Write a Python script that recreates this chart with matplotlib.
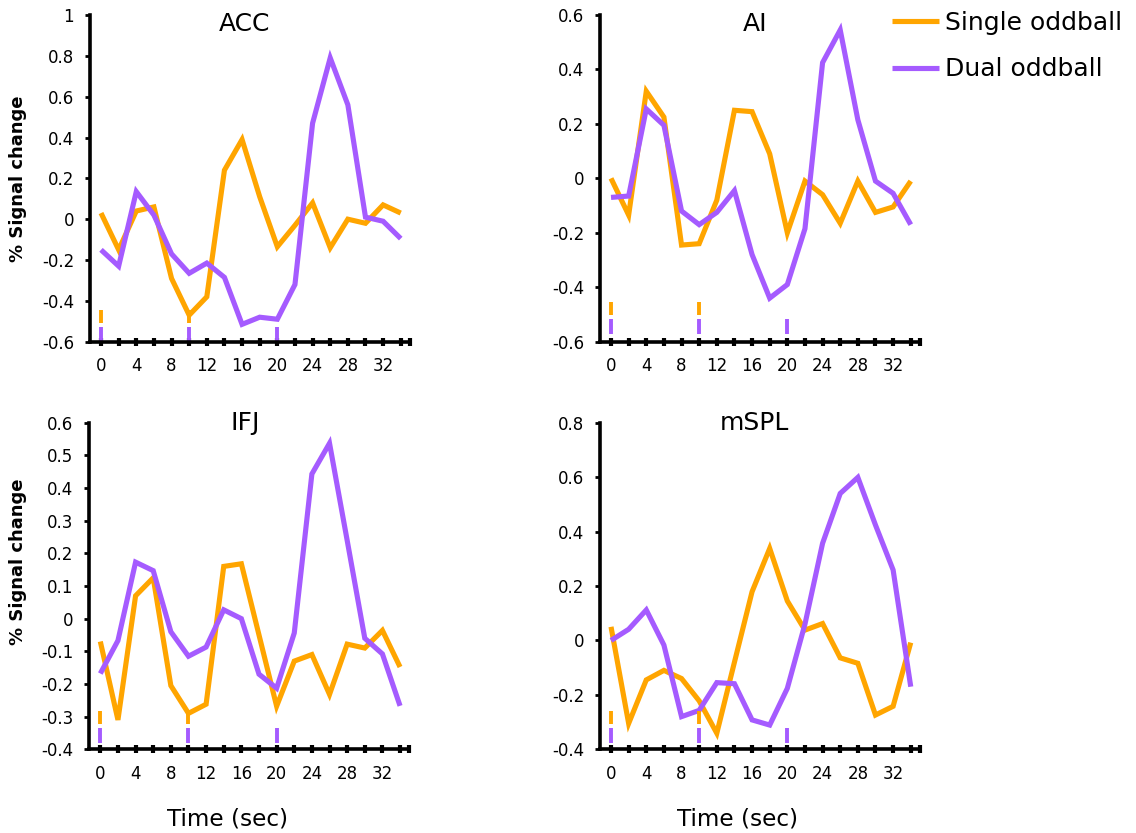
import matplotlib
matplotlib.use("Agg")
import matplotlib.pyplot as plt
import matplotlib.transforms as mtransforms
from matplotlib.ticker import FixedLocator, FuncFormatter

plt.rcParams["font.family"] = ["DejaVu Sans"]
plt.rcParams["axes.unicode_minus"] = False

# ---- data -------------------------------------------------------------
time_sec = [0, 2, 4, 6, 8, 10, 12, 14, 16, 18, 20, 22, 24, 26, 28, 30, 32, 34]

regions = ["ACC", "AI", "IFJ", "mSPL"]

acc_single = [0.03, -0.15, 0.04, 0.06, -0.29, -0.47, -0.38, 0.24, 0.39, 0.11,
              -0.135, -0.03, 0.08, -0.14, 0.0, -0.02, 0.07, 0.03]
acc_dual = [-0.15, -0.23, 0.135, 0.02, -0.17, -0.265, -0.215, -0.285, -0.515, -0.48,
            -0.49, -0.32, 0.47, 0.79, 0.56, 0.01, -0.01, -0.095]

ai_single = [0.0, -0.135, 0.32, 0.225, -0.245, -0.24, -0.08, 0.25, 0.245, 0.09,
             -0.2, -0.01, -0.06, -0.165, -0.01, -0.125, -0.105, -0.01]
ai_dual = [-0.07, -0.065, 0.255, 0.195, -0.12, -0.17, -0.125, -0.045, -0.28, -0.44,
           -0.39, -0.185, 0.425, 0.545, 0.215, -0.01, -0.055, -0.17]

ifj_single = [-0.07, -0.31, 0.07, 0.125, -0.205, -0.29, -0.262, 0.16, 0.168, -0.05,
              -0.268, -0.13, -0.11, -0.232, -0.078, -0.09, -0.036, -0.148]
ifj_dual = [-0.168, -0.067, 0.173, 0.147, -0.04, -0.115, -0.087, 0.027, 0.0, -0.17,
            -0.213, -0.044, 0.443, 0.537, 0.24, -0.06, -0.108, -0.267]

mspl_single = [0.05, -0.305, -0.145, -0.11, -0.14, -0.222, -0.341, -0.08, 0.179, 0.338,
               0.145, 0.038, 0.062, -0.064, -0.084, -0.274, -0.242, -0.008]
mspl_dual = [0.0, 0.041, 0.112, -0.017, -0.28, -0.257, -0.155, -0.159, -0.292, -0.311,
             -0.176, 0.06, 0.357, 0.54, 0.599, 0.424, 0.259, -0.17]

single_series = [acc_single, ai_single, ifj_single, mspl_single]
dual_series = [acc_dual, ai_dual, ifj_dual, mspl_dual]

# y-axis tick values per region
yticks_acc = [-0.6, -0.4, -0.2, 0, 0.2, 0.4, 0.6, 0.8, 1]
yticks_ai = [-0.6, -0.4, -0.2, 0, 0.2, 0.4, 0.6]
yticks_ifj = [-0.4, -0.3, -0.2, -0.1, 0, 0.1, 0.2, 0.3, 0.4, 0.5, 0.6]
yticks_mspl = [-0.4, -0.2, 0, 0.2, 0.4, 0.6, 0.8]
yticks_all = [yticks_acc, yticks_ai, yticks_ifj, yticks_mspl]

xtick_labeled = [0, 4, 8, 12, 16, 20, 24, 28, 32]

# stimulus onsets (sec)
single_onsets = [0, 10]
dual_onsets = [0, 10, 20]

series_labels = ["Single oddball", "Dual oddball"]

# ---- styling ----------------------------------------------------------
C_SINGLE = "#FFA500"
C_DUAL = "#A55BFF"
W, H = 1136, 833

fig = plt.figure(figsize=(W / 100, H / 100), dpi=100)

axes_px = [(90, 15, 320, 326.7), (600, 15, 320, 326.7),
           (89.3, 422.7, 320, 326.6), (600, 422.7, 320, 326.6)]
onset_base = [0.0, 0.025, 0.02, 0.02]
title_pos = [(244.7, 31), (754.7, 31), (245.5, 430), (754.7, 430)]

handles = None
for i, name in enumerate(regions):
    x0, y0, w, h = axes_px[i]
    ax = fig.add_axes([x0 / W, 1 - (y0 + h) / H, w / W, h / H])
    yt = yticks_all[i]

    l1, = ax.plot(time_sec, single_series[i], color=C_SINGLE, lw=3.7,
                  solid_joinstyle="miter", solid_capstyle="butt", zorder=3)
    l2, = ax.plot(time_sec, dual_series[i], color=C_DUAL, lw=3.7,
                  solid_joinstyle="miter", solid_capstyle="butt", zorder=3)
    if handles is None:
        handles = [l1, l2]

    # onset markers near the x-axis
    trans = mtransforms.blended_transform_factory(ax.transData, ax.transAxes)
    b = onset_base[i]
    ax.vlines(dual_onsets, b, b + 0.045, colors=C_DUAL, lw=2.8, transform=trans,
              zorder=4)
    ax.vlines(single_onsets, b + 0.057, b + 0.097, colors=C_SINGLE, lw=2.8,
              transform=trans, zorder=4)

    ax.set_xlim(-1.25, 35.05)
    ax.set_ylim(yt[0], yt[-1])

    for s in ("top", "right"):
        ax.spines[s].set_visible(False)
    for s in ("left", "bottom"):
        ax.spines[s].set_linewidth(2.6)
        ax.spines[s].set_color("black")
        ax.spines[s].set_zorder(5)

    ax.xaxis.set_major_locator(FixedLocator(xtick_labeled))
    ax.xaxis.set_minor_locator(FixedLocator([t for t in time_sec if t not in xtick_labeled] + [35.05]))
    ax.tick_params(axis="x", which="both", direction="inout", length=6, width=3,
                   color="black", labelsize=12, pad=8)
    ax.yaxis.set_major_locator(FixedLocator(yt))
    ax.yaxis.set_major_formatter(FuncFormatter(lambda v, p: f"{v:g}"))
    ax.tick_params(axis="y", direction="out", length=3.5, width=2, color="black",
                   labelsize=12, pad=8)

    tx, ty = title_pos[i]
    fig.text(tx / W, 1 - ty / H, name, ha="center", va="baseline", fontsize=18)

# axis labels
for cy in (178.3, 561.7):
    fig.text(18.3 / W, 1 - cy / H, "% Signal change", rotation=90, ha="center",
             va="center", fontsize=13, fontweight="bold")
for cx in (227.5, 737.5):
    fig.text(cx / W, 1 - 826 / H, "Time (sec)", ha="center", va="baseline",
             fontsize=16.7)

fig.legend(handles, series_labels, loc="upper left",
           bbox_to_anchor=(891.7 / W, 1 - 11 / H), frameon=False, fontsize=18,
           handlelength=1.9, handletextpad=0.23, labelspacing=0.9,
           borderpad=0, borderaxespad=0)

fig.savefig("out.png", dpi=100)
